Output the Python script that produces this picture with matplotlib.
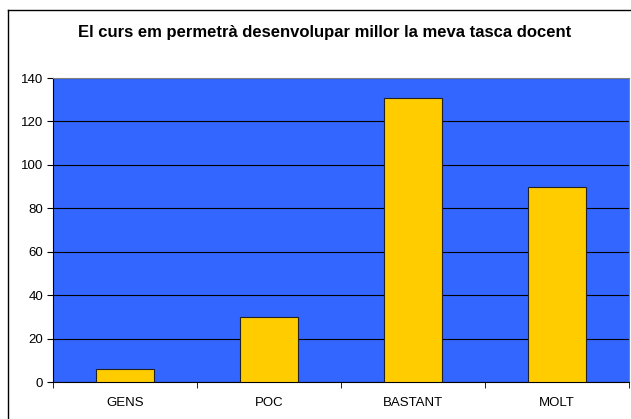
import matplotlib.pyplot as plt
from matplotlib.lines import Line2D

categories = ['GENS', 'POC', 'BASTANT', 'MOLT']
values = [6, 30, 131, 90]
yticks = [0, 20, 40, 60, 80, 100, 120, 140]

plt.rcParams['font.family'] = ['Liberation Sans', 'DejaVu Sans']

fig = plt.figure(figsize=(6.31, 4.19), dpi=100)
ax = fig.add_axes([53 / 631, 37 / 419, 576 / 631, 304 / 419])

ax.set_facecolor('#3366FF')
x = range(len(categories))
ax.bar(x, values, width=0.4, color='#FFCC00', edgecolor='#222222', linewidth=0.8, zorder=3)

ax.set_xlim(-0.5, len(categories) - 0.5)
ax.set_ylim(0, 140)
ax.set_yticks(yticks)
ax.yaxis.grid(True, color='black', linewidth=0.8, zorder=1)
ax.set_axisbelow(True)

ax.set_xticks(x)
ax.set_xticklabels(categories, fontsize=9.5)
ax.tick_params(axis='x', length=0, pad=11)
ax.set_xticks([i - 0.5 for i in range(len(categories) + 1)], minor=True)
ax.tick_params(axis='x', which='minor', length=4, direction='out')
ax.tick_params(axis='y', labelsize=9.5, length=4, direction='out', pad=3)

for side in ['top', 'right']:
    ax.spines[side].set_color('#808080')
ax.spines['bottom'].set_color('black')
ax.spines['left'].set_color('black')

fig.text(325 / 631, 1 - 33 / 419, 'El curs em permetrà desenvolupar millor la meva tasca docent',
         ha='center', va='center', fontsize=12, fontweight='bold')

# outer chart border (left and top edges visible)
fig.add_artist(Line2D([7.5 / 631, 7.5 / 631], [0, 1 - 10 / 419], color='black', linewidth=1,
                      transform=fig.transFigure))
fig.add_artist(Line2D([7.5 / 631, 1], [1 - 10 / 419, 1 - 10 / 419], color='black', linewidth=1,
                      transform=fig.transFigure))

fig.savefig('out.png', dpi=100)
